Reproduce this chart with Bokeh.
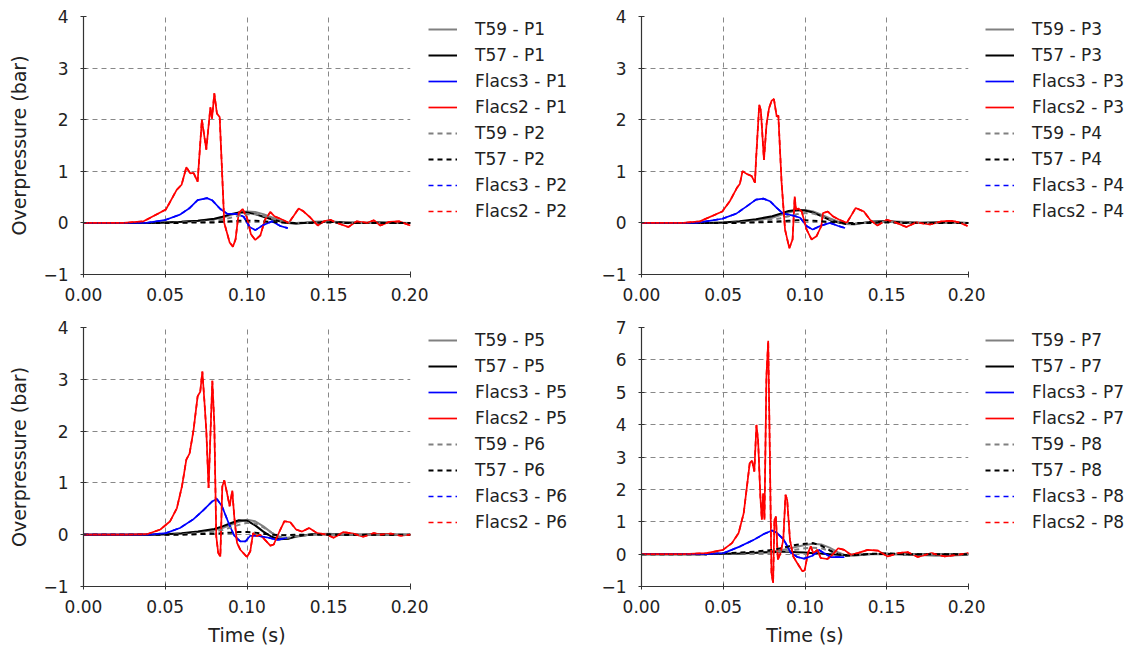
from bokeh.plotting import figure
from bokeh.models import Range1d, FixedTicker, PrintfTickFormatter, Legend, LegendItem
from bokeh.layouts import column, row
from bokeh.embed import file_html
from bokeh.resources import INLINE

# ---------------- data ----------------
t_exp = [0, 0.02, 0.04, 0.05, 0.06, 0.07, 0.08, 0.085, 0.09, 0.095, 0.10, 0.105,
         0.11, 0.115, 0.12, 0.125, 0.13, 0.14, 0.15, 0.16, 0.17, 0.18, 0.19, 0.20]

# panel 1 : P1 / P2
t59_p1 = [0, 0, 0, 0.01, 0.02, 0.04, 0.07, 0.10, 0.15, 0.20, 0.22, 0.21, 0.17, 0.11, 0.05, 0.01, -0.01, 0.02, 0.03, 0.01, 0.0, 0.01, 0.01, 0.0]
t57_p1 = [0, 0, 0, 0.01, 0.02, 0.04, 0.08, 0.12, 0.17, 0.20, 0.20, 0.17, 0.12, 0.07, 0.03, 0.0, -0.01, 0.01, 0.02, 0.01, 0.0, 0.01, 0.0, 0.0]
t59_p2 = [0, 0, 0, 0, 0.01, 0.02, 0.04, 0.06, 0.10, 0.14, 0.17, 0.17, 0.14, 0.09, 0.04, 0.01, 0.0, 0.01, 0.02, 0.01, 0.0, 0.0, 0.0, 0.0]
t57_p2 = [0, 0, 0, 0, 0.0, 0.01, 0.01, 0.02, 0.03, 0.04, 0.04, 0.04, 0.03, 0.02, 0.01, 0.0, 0.0, 0.0, 0.01, 0.0, 0.0, 0.0, 0.0, 0.0]
flacs3_t_p1 = [0, 0.0388, 0.0504, 0.059, 0.065, 0.0698, 0.0755, 0.0786, 0.0837, 0.0878, 0.0939, 0.098, 0.1016, 0.1051, 0.110, 0.1153, 0.1204, 0.1249]
flacs3_p1 = [0, 0, 0.06, 0.16, 0.29, 0.44, 0.48, 0.44, 0.27, 0.18, 0.17, 0.12, -0.08, -0.14, -0.04, 0.03, -0.06, -0.10]
flacs2_t_p1 = [0, 0.0245, 0.0367, 0.0504, 0.057, 0.060, 0.0629, 0.0653, 0.0673, 0.0698, 0.0724, 0.0751, 0.0776, 0.0786, 0.080, 0.0816, 0.0833,
               0.0861, 0.0894, 0.0914, 0.093, 0.0949, 0.0973, 0.100, 0.1024, 0.1051, 0.1082, 0.111, 0.1143, 0.1167, 0.1204, 0.1255, 0.1286,
               0.1316, 0.1347, 0.1388, 0.1433, 0.147, 0.151, 0.155, 0.162, 0.167, 0.1735, 0.1776, 0.1816, 0.187, 0.193, 0.200]
flacs2_p1 = [0, 0, 0.03, 0.26, 0.64, 0.74, 1.08, 0.96, 0.97, 0.80, 2.00, 1.42, 2.24, 2.02, 2.51, 2.12, 2.05,
             0.0, -0.38, -0.46, -0.32, 0.19, 0.27, 0.10, -0.22, -0.33, -0.24, 0.06, 0.21, 0.13, 0.08, 0.0, 0.14,
             0.28, 0.22, 0.10, -0.05, 0.03, 0.06, 0.0, -0.08, 0.03, 0.0, 0.05, -0.05, 0.02, 0.03, -0.05]

# panel 2 : P3 / P4
t59_p3 = [0, 0, 0, 0.01, 0.02, 0.05, 0.10, 0.15, 0.20, 0.24, 0.25, 0.22, 0.16, 0.09, 0.03, -0.02, -0.03, 0.02, 0.03, 0.02, 0.01, 0.01, 0.01, 0.0]
t57_p3 = [0, 0, 0, 0.01, 0.03, 0.07, 0.13, 0.18, 0.23, 0.25, 0.24, 0.20, 0.13, 0.06, 0.01, -0.02, -0.02, 0.02, 0.03, 0.01, 0.0, 0.01, 0.01, 0.0]
t59_p4 = [0, 0, 0, 0, 0.01, 0.03, 0.06, 0.09, 0.13, 0.17, 0.19, 0.18, 0.13, 0.07, 0.02, -0.02, -0.02, 0.01, 0.02, 0.01, 0.0, 0.0, 0.0, 0.0]
t57_p4 = [0, 0, 0, 0, 0.0, 0.01, 0.02, 0.03, 0.04, 0.05, 0.05, 0.04, 0.03, 0.02, 0.01, 0.0, 0.0, 0.0, 0.01, 0.0, 0.0, 0.0, 0.0, 0.0]
flacs3_t_p3 = [0, 0.0337, 0.0494, 0.058, 0.0643, 0.070, 0.0745, 0.0786, 0.0827, 0.0867, 0.0929, 0.097, 0.101, 0.1047, 0.1092, 0.1153, 0.1204, 0.1245]
flacs3_p3 = [0, 0, 0.08, 0.18, 0.32, 0.45, 0.47, 0.42, 0.29, 0.18, 0.14, 0.10, -0.06, -0.13, -0.06, 0.0, -0.06, -0.10]
flacs2_t_p3 = [0, 0.0255, 0.0357, 0.0494, 0.054, 0.0582, 0.0602, 0.0618, 0.0643, 0.0673, 0.0694, 0.070, 0.072, 0.073, 0.0749, 0.0765, 0.078,
               0.0796, 0.081, 0.0827, 0.0837, 0.0857, 0.0878, 0.0904, 0.0924, 0.0937, 0.0945, 0.096, 0.098, 0.101, 0.104, 0.107, 0.110,
               0.111, 0.114, 0.117, 0.121, 0.1255, 0.1286, 0.131, 0.136, 0.1398, 0.1443, 0.150, 0.156, 0.162, 0.168, 0.1765, 0.1837,
               0.190, 0.195, 0.1994]
flacs2_p3 = [0, 0, 0.03, 0.22, 0.42, 0.67, 0.76, 1.00, 0.95, 0.91, 0.78, 1.19, 2.29, 2.18, 1.22, 1.92, 2.22,
             2.37, 2.40, 2.06, 2.08, 0.77, -0.13, -0.49, -0.32, 0.51, 0.26, 0.28, 0.22, -0.13, -0.32, -0.26, -0.06,
             0.19, 0.22, 0.13, 0.06, 0.0, 0.16, 0.29, 0.22, 0.06, -0.05, 0.06, 0.0, -0.08, 0.01, -0.03, 0.03,
             0.04, 0.0, -0.06]

# panel 3 : P5 / P6
t59_p5 = [0, 0, 0, 0.01, 0.02, 0.05, 0.09, 0.13, 0.19, 0.25, 0.29, 0.26, 0.16, 0.04, -0.06, -0.08, -0.04, 0.01, 0.02, 0.0, 0.0, 0.0, 0.0, 0.0]
t57_p5 = [0, 0, 0, 0.01, 0.03, 0.06, 0.11, 0.16, 0.22, 0.28, 0.27, 0.18, 0.06, -0.04, -0.09, -0.08, -0.03, 0.01, 0.01, 0.0, 0.0, 0.01, 0.0, 0.0]
t59_p6 = [0, 0, 0, 0, 0.01, 0.03, 0.06, 0.09, 0.14, 0.19, 0.23, 0.22, 0.14, 0.04, -0.04, -0.06, -0.03, 0.0, 0.01, 0.0, 0.0, 0.0, 0.0, 0.0]
t57_p6 = [0, 0, 0, 0, 0.0, 0.01, 0.02, 0.03, 0.04, 0.05, 0.05, 0.04, 0.02, 0.0, -0.01, -0.01, 0.0, 0.0, 0.0, 0.0, 0.0, 0.0, 0.0, 0.0]
flacs3_t_p5 = [0, 0.0408, 0.0504, 0.059, 0.0673, 0.0735, 0.0786, 0.0816, 0.0847, 0.0888, 0.0922, 0.0959, 0.099, 0.102, 0.106, 0.112, 0.1184, 0.1245]
flacs3_p5 = [0, 0, 0.03, 0.13, 0.30, 0.48, 0.64, 0.69, 0.55, 0.22, -0.02, -0.13, -0.13, -0.02, -0.02, -0.05, -0.10, -0.06]
flacs2_t_p5 = [0, 0.0245, 0.0388, 0.047, 0.053, 0.0571, 0.0602, 0.0629, 0.0649, 0.0673, 0.0698, 0.0714, 0.0727, 0.0739, 0.0751, 0.0765, 0.0776,
               0.0788, 0.080, 0.0812, 0.0824, 0.0837, 0.0849, 0.0861, 0.0878, 0.0894, 0.091, 0.0922, 0.0939, 0.0959, 0.100, 0.102, 0.1037,
               0.1057, 0.108, 0.111, 0.1143, 0.1163, 0.1204, 0.1229, 0.1265, 0.130, 0.1337, 0.138, 0.1429, 0.149, 0.153, 0.159, 0.165,
               0.171, 0.1776, 0.1816, 0.188, 0.194, 0.200]
flacs2_p5 = [0, 0, 0.01, 0.10, 0.26, 0.51, 0.93, 1.45, 1.57, 2.02, 2.67, 2.76, 3.15, 2.60, 2.02, 0.90, 1.90,
             2.97, 2.15, -0.03, -0.35, -0.42, 0.93, 1.05, 0.80, 0.55, 0.85, 0.35, -0.16, -0.29, -0.43, -0.32, 0.03,
             -0.03, 0.0, -0.10, -0.21, -0.19, 0.10, 0.26, 0.24, 0.10, 0.06, 0.13, 0.03, 0.0, -0.06, 0.05, 0.02,
             -0.04, 0.03, 0.0, 0.02, -0.02, 0.0]

# panel 4 : P7 / P8
t59_p7 = [0, 0, 0, 0.01, 0.02, 0.04, 0.08, 0.12, 0.17, 0.23, 0.28, 0.32, 0.30, 0.20, 0.06, -0.04, -0.05, 0.0, 0.0, -0.02, -0.03, -0.05, -0.04, -0.02]
t57_p7 = [0, 0, 0, 0.01, 0.02, 0.04, 0.06, 0.07, 0.07, 0.06, 0.05, 0.03, 0.02, 0.0, -0.02, -0.03, -0.02, 0.0, 0.01, 0.0, 0.0, 0.0, 0.0, 0.0]
t59_p8 = [0, 0, 0, 0.01, 0.02, 0.03, 0.05, 0.08, 0.10, 0.14, 0.18, 0.20, 0.18, 0.10, 0.02, -0.03, -0.02, 0.0, 0.01, 0.0, 0.0, 0.0, 0.0, 0.0]
t57_p8 = [0, 0, 0, 0.02, 0.05, 0.08, 0.13, 0.18, 0.24, 0.29, 0.32, 0.34, 0.26, 0.12, 0.0, -0.05, -0.03, 0.01, 0.02, 0.0, 0.0, 0.0, 0.0, 0.0]
flacs3_t_p7 = [0, 0.040, 0.0502, 0.0604, 0.0686, 0.0748, 0.0799, 0.083, 0.0871, 0.0912, 0.0953, 0.0994, 0.1045, 0.1086, 0.1117, 0.1158, 0.124]
flacs3_p7 = [0, 0, 0.03, 0.24, 0.44, 0.62, 0.73, 0.65, 0.44, 0.05, -0.09, -0.14, -0.05, 0.13, 0.03, -0.09, -0.09]
flacs2_t_p7 = [0, 0.0256, 0.040, 0.0498, 0.0553, 0.0594, 0.0625, 0.0645, 0.0662, 0.0676, 0.069, 0.0703, 0.0713, 0.0727, 0.0736, 0.0744, 0.0752,
               0.0764, 0.0775, 0.0785, 0.0795, 0.0805, 0.0813, 0.0822, 0.0834, 0.085, 0.0867, 0.0881, 0.0891, 0.0908, 0.0928, 0.0953, 0.0984,
               0.0998, 0.1018, 0.1035, 0.1051, 0.1076, 0.1096, 0.1137, 0.1168, 0.1203, 0.124, 0.128, 0.1322, 0.1383, 0.1445, 0.1506, 0.1568,
               0.163, 0.169, 0.1773, 0.1855, 0.1936, 0.200]
flacs2_p7 = [0, 0, 0.03, 0.13, 0.34, 0.65, 1.26, 2.09, 2.81, 2.89, 2.55, 3.99, 3.53, 1.78, 1.06, 1.88, 1.06,
             5.48, 6.59, 3.11, -0.59, -0.89, 1.06, 1.16, -0.17, 0.03, 0.44, 1.83, 1.68, 0.44, -0.07, -0.28, -0.53,
             -0.50, 0.03, 0.24, 0.03, 0.13, -0.12, -0.15, -0.02, 0.18, 0.13, -0.02, 0.03, 0.13, 0.11, -0.07, 0.03,
             0.06, -0.09, 0.03, -0.07, -0.02, 0.03]

x_ticks = [0.0, 0.05, 0.10, 0.15, 0.20]

panels = [
    dict(a="P1", b="P2", t59a=t59_p1, t57a=t57_p1, t59b=t59_p2, t57b=t57_p2,
         f3t=flacs3_t_p1, f3=flacs3_p1, f2t=flacs2_t_p1, f2=flacs2_p1, ymax=4),
    dict(a="P3", b="P4", t59a=t59_p3, t57a=t57_p3, t59b=t59_p4, t57b=t57_p4,
         f3t=flacs3_t_p3, f3=flacs3_p3, f2t=flacs2_t_p3, f2=flacs2_p3, ymax=4),
    dict(a="P5", b="P6", t59a=t59_p5, t57a=t57_p5, t59b=t59_p6, t57b=t57_p6,
         f3t=flacs3_t_p5, f3=flacs3_p5, f2t=flacs2_t_p5, f2=flacs2_p5, ymax=4),
    dict(a="P7", b="P8", t59a=t59_p7, t57a=t57_p7, t59b=t59_p8, t57b=t57_p8,
         f3t=flacs3_t_p7, f3=flacs3_p7, f2t=flacs2_t_p7, f2=flacs2_p7, ymax=7),
]

FONT = "DejaVu Sans"
GRAY = "#808080"
FRAME_W = 327
STYLES = [dict(color=GRAY, line_width=2), dict(color="black", line_width=2),
          dict(color="#0000ff", line_width=1.7), dict(color="#ff0000", line_width=1.7),
          dict(color=GRAY, line_width=2, line_dash="5 4"), dict(color="black", line_width=2, line_dash="5 4"),
          dict(color="#0000ff", line_width=1.7, line_dash="5 4"), dict(color="#ff0000", line_width=1.7, line_dash="5 4")]


def make_panel(d, left_panel, bottom_panel):
    bl = 83 if left_panel else 56
    br = 18 if left_panel else 17
    bt = 16 if not bottom_panel else 8
    bb = 45 if not bottom_panel else 62
    fh = 258 if not bottom_panel else 259
    w = bl + FRAME_W + br
    h = bt + fh + bb
    p = figure(width=w, height=h, output_backend="svg", toolbar_location=None, title=None,
               x_range=Range1d(0, 0.2), y_range=Range1d(-1, d["ymax"]),
               min_border_left=bl, min_border_right=br, min_border_top=bt, min_border_bottom=bb)
    p.outline_line_color = None
    p.background_fill_color = "white"
    p.border_fill_color = "white"

    series = [(t_exp, d["t59a"]), (t_exp, d["t57a"]), (d["f3t"], d["f3"]), (d["f2t"], d["f2"]),
              (t_exp, d["t59b"]), (t_exp, d["t57b"]), (d["f3t"], d["f3"]), (d["f2t"], d["f2"])]
    for (xs, ys), st in zip(series, STYLES):
        p.line(xs, ys, **st)

    for g in (p.xgrid, p.ygrid):
        g.grid_line_color = "#888888"
        g.grid_line_dash = "5 4"
        g.grid_line_width = 1
    p.xaxis.ticker = FixedTicker(ticks=x_ticks)
    p.xgrid.ticker = FixedTicker(ticks=x_ticks)
    yt = list(range(-1, d["ymax"] + 1))
    p.yaxis.ticker = FixedTicker(ticks=yt)
    p.ygrid.ticker = FixedTicker(ticks=yt)
    p.xaxis.formatter = PrintfTickFormatter(format="%.2f")
    p.yaxis.major_label_overrides = {-1: "\u22121"}

    for ax in (p.xaxis[0], p.yaxis[0]):
        ax.axis_line_color = "#333333"
        ax.axis_line_width = 1.2
        ax.major_tick_line_color = "#333333"
        ax.major_tick_out = 3
        ax.major_tick_in = 3
        ax.minor_tick_line_color = None
        ax.major_label_text_font = FONT
        ax.major_label_text_font_size = "17px"
        ax.major_label_text_color = "#222222"
        ax.axis_label_text_font = FONT
        ax.axis_label_text_font_size = "19px"
        ax.axis_label_text_font_style = "normal"
        ax.axis_label_text_color = "#222222"
    p.xaxis.major_label_standoff = 10
    p.yaxis.major_label_standoff = 12
    if left_panel:
        p.yaxis.axis_label = "Overpressure (bar)"
        p.yaxis.axis_label_standoff = 10
    if bottom_panel:
        p.xaxis.axis_label = "Time (s)"
        p.xaxis.axis_label_standoff = 8

    # legend in its own narrow figure next to the plot (same series, drawn out of view)
    lw = 157 if left_panel else 148
    lf = figure(width=lw, height=h, output_backend="svg", toolbar_location=None, title=None,
                x_axis_type=None, y_axis_type=None, x_range=Range1d(1, 2), y_range=Range1d(1, 2),
                min_border_left=0, min_border_right=0, min_border_bottom=0, min_border_top=bt)
    lf.outline_line_color = None
    lf.xgrid.visible = False
    lf.ygrid.visible = False
    labels = ["T59 - " + d["a"], "T57 - " + d["a"], "Flacs3 - " + d["a"], "Flacs2 - " + d["a"],
              "T59 - " + d["b"], "T57 - " + d["b"], "Flacs3 - " + d["b"], "Flacs2 - " + d["b"]]
    items = []
    for lab, (xs, ys), st in zip(labels, series, STYLES):
        r = lf.line(xs, ys, **st)
        items.append(LegendItem(label=lab, renderers=[r]))
    legend = Legend(items=items, location="top_left",
                    glyph_width=29, glyph_height=26, label_height=26, label_standoff=18,
                    spacing=0, padding=0, margin=0,
                    border_line_color=None, background_fill_alpha=0,
                    label_text_font=FONT, label_text_font_size="17px", label_text_color="#222222")
    lf.add_layout(legend, "center")
    return p, lf


f1, l1 = make_panel(panels[0], True, False)
f2, l2 = make_panel(panels[1], False, False)
f3, l3 = make_panel(panels[2], True, True)
f4, l4 = make_panel(panels[3], False, True)

layout = column(row(f1, l1, f2, l2), row(f3, l3, f4, l4))
open("out.html", "w").write(file_html(layout, INLINE))
